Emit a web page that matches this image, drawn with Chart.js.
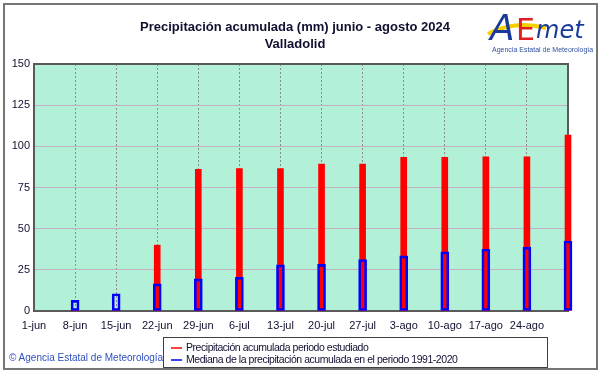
<!DOCTYPE html>
<html>
<head>
<meta charset="utf-8">
<script src="https://cdn.jsdelivr.net/npm/chart.js@4"></script>
<style>
    body { margin: 0; background: #fff; font-family: "Liberation Sans", Arial, sans-serif; }
    #wrap { position: relative; width: 601px; height: 374px; overflow: hidden; }
    #grafico { position: absolute; left: 0; top: 0; }
    .marco { position: absolute; left: 3px; top: 3px; width: 591px; height: 363px; border: 2px solid #767676; }
    .titulo { position: absolute; left: 0; width: 590px; text-align: center; font-weight: bold; font-size: 13px; color: #101030; }
    .leyenda { position: absolute; left: 163px; top: 337px; width: 383px; height: 29px; border: 1px solid #404040; background: #fff; font-size: 10.5px; letter-spacing: -0.45px; color: #101030; }
    .leyenda div { position: absolute; left: 22px; white-space: nowrap; }
    .leyenda svg { position: absolute; left: 6px; top: 0; }
    .copy { position: absolute; left: 9px; top: 352px; font-size: 10px; color: #3050c0; white-space: nowrap; }
    .logo { position: absolute; left: 484px; top: 4px; }
</style>
</head>
<body>
<div id="wrap">
    <canvas id="grafico" width="601" height="374"></canvas>
    <div class="marco"></div>
    <div class="titulo" style="top:19px">Precipitación acumulada (mm) junio - agosto 2024</div>
    <div class="titulo" style="top:36px">Valladolid</div>
    <svg class="logo" width="112" height="52">
        <path d="M4 30 Q 30 16 62 24" stroke="#f5d000" stroke-width="4" fill="none"/>
        <text x="6" y="36" font-family="DejaVu Sans" font-style="italic" font-size="36" fill="#1a3a9a">A</text>
        <text x="32" y="36" font-family="DejaVu Sans" font-size="30" fill="#e02020">E</text>
        <text x="52" y="34" font-family="DejaVu Sans" font-style="italic" font-size="24" fill="#1a3a9a">met</text>
        <text x="8" y="48" font-family="Liberation Sans" font-size="7" fill="#3050a0">Agencia Estatal de Meteorología</text>
    </svg>
    <div class="leyenda">
        <svg width="14" height="29">
            <line x1="1" y1="10" x2="12" y2="10" stroke="#ff0000" stroke-width="1.5"/>
            <line x1="1" y1="22" x2="12" y2="22" stroke="#0000ff" stroke-width="1.5"/>
        </svg>
        <div style="top:3px">Precipitación acumulada periodo estudiado</div>
        <div style="top:15px">Mediana de la precipitación acumulada en el periodo 1991-2020</div>
    </div>
    <div class="copy">© Agencia Estatal de Meteorología</div>
</div>
<script>
// Fechas (semanales)
const fechas = ['1-jun', '8-jun', '15-jun', '22-jun', '29-jun', '6-jul', '13-jul', '20-jul', '27-jul', '3-ago', '10-ago', '17-ago', '24-ago', '31-ago'];

// Precipitación acumulada en el periodo estudiado (mm)
const acumulada = [null, 1, 1, 40, 86, 86.5, 86.5, 89.2, 89.2, 93.3, 93.3, 93.7, 93.7, 106.8];

// Mediana de la precipitación acumulada 1991-2020 (mm)
const mediana = [null, 6.5, 10.5, 16.5, 19.5, 20.5, 28, 28.3, 31.3, 33.5, 36, 37.5, 38.8, 42.5];

const colorTexto = '#101030';

// Fondo y marco del área del gráfico
const marcoPlugin = {
    id: 'marco',
    beforeDraw(chart) {
        const a = chart.chartArea;
        chart.ctx.save();
        chart.ctx.fillStyle = '#b2f0d8';
        chart.ctx.fillRect(a.left, a.top, a.right - a.left, a.bottom - a.top);
        chart.ctx.restore();
    },
    beforeDatasetsDraw(chart) {
        const a = chart.chartArea;
        const ctx = chart.ctx;
        ctx.save();
        ctx.strokeStyle = '#5a5a5a';
        ctx.lineWidth = 2;
        ctx.strokeRect(a.left, a.top, a.right - a.left, a.bottom - a.top);
        ctx.restore();
    }
};

new Chart(document.getElementById('grafico'), {
    type: 'bar',
    data: {
        labels: fechas,
        datasets: [{
            label: 'Mediana de la precipitación acumulada en el periodo 1991-2020',
            data: mediana,
            backgroundColor: 'rgba(0,0,0,0)',
            borderColor: '#0000ff',
            borderWidth: 2,
            borderSkipped: false,
            barThickness: 8,
            grouped: false,
            clip: false
        }, {
            label: 'Precipitación acumulada periodo estudiado',
            data: acumulada,
            backgroundColor: '#ff0000',
            borderWidth: 0,
            barThickness: 6,
            grouped: false,
            clip: false
        }]
    },
    options: {
        responsive: false,
        devicePixelRatio: 1,
        animation: false,
        layout: { padding: { left: 0, top: 64, right: 33, bottom: 0 } },
        plugins: {
            legend: { display: false },
            tooltip: { enabled: false }
        },
        scales: {
            x: {
                offset: false,
                grid: { offset: false, color: '#8c8c8c', drawTicks: false },
                border: { display: false, dash: [2, 2] },
                ticks: {
                    autoSkip: false,
                    maxRotation: 0,
                    padding: 8,
                    color: colorTexto,
                    font: { family: 'Liberation Sans', size: 11 },
                    callback: (v, i) => i === fechas.length - 1 ? '' : fechas[i]
                },
                afterFit: (scale) => { scale.height = 63; }
            },
            y: {
                min: 0,
                max: 150,
                grid: { color: '#c4b0c4', drawTicks: false },
                border: { display: false },
                ticks: {
                    stepSize: 25,
                    padding: 4,
                    color: colorTexto,
                    font: { family: 'Liberation Sans', size: 11 }
                },
                afterFit: (scale) => { scale.width = 34; }
            }
        }
    },
    plugins: [marcoPlugin]
});
</script>
</body>
</html>
